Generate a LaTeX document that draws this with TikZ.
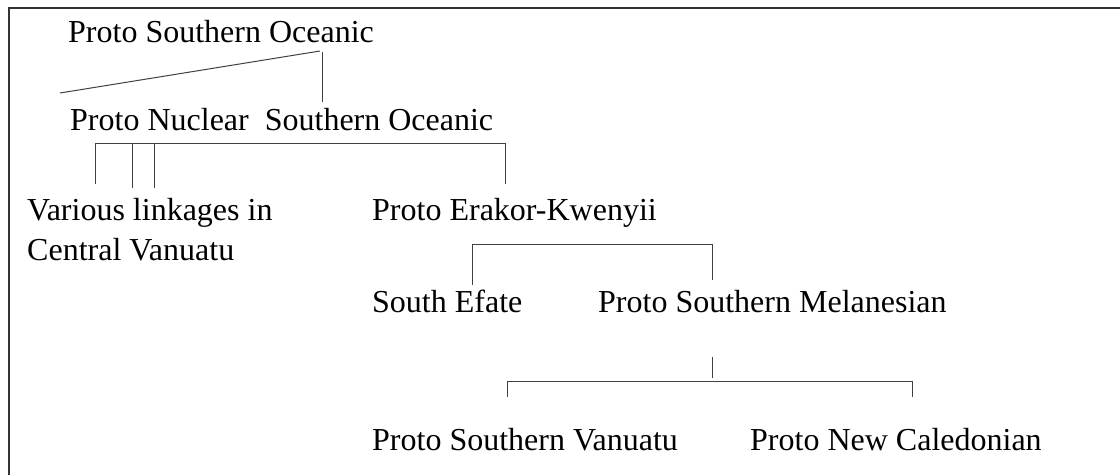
\documentclass[tikz,border=0pt]{standalone}
\usepackage{fontspec}
\setmainfont{Liberation Serif}
\tikzset{
  lbl/.style={anchor=base west, inner sep=0pt, font=\fontsize{32}{40}\selectfont},
  twoline/.style={lbl, align=left},
  branch/.style={draw=black!75, line width=1pt},
  frame/.style={draw=black!80, line width=2pt}
}
\begin{document}
\begin{tikzpicture}[x=1pt, y=-1pt]
      \useasboundingbox (0,0) rectangle (1120,475);
      \draw[frame] (9,475) -- (9,8) -- (1120,8);
      \draw
        (68,42) node[lbl] (psoc) {Proto Southern Oceanic}
        (70,130) node[lbl] (pnso) {Proto Nuclear\ \ Southern Oceanic}
        (27,260) node[twoline] (vlcv) {Various linkages in\\Central Vanuatu}
        (372,220) node[lbl] (pek) {Proto Erakor-Kwenyii}
        (372,312) node[lbl] (sef) {South Efate}
        (598,312) node[lbl] (psm) {Proto Southern Melanesian}
        (372,450) node[lbl] (psv) {Proto Southern Vanuatu}
        (750,450) node[lbl] (pnc) {Proto New Caledonian};
      \coordinate (0) at (60,93);
      \coordinate (1) at (320,51);
      \coordinate (2) at (322,52);
      \coordinate (3) at (322,102);
      \coordinate (4) at (95,184);
      \coordinate (5) at (95,143);
      \coordinate (6) at (505,143);
      \coordinate (7) at (505,184);
      \coordinate (8) at (132,143);
      \coordinate (9) at (132,188);
      \coordinate (10) at (154,143);
      \coordinate (11) at (154,188);
      \coordinate (12) at (472,285);
      \coordinate (13) at (472,244);
      \coordinate (14) at (712,244);
      \coordinate (15) at (712,280);
      \coordinate (16) at (712,357);
      \coordinate (17) at (712,378);
      \coordinate (18) at (507,397);
      \coordinate (19) at (507,381);
      \coordinate (20) at (912,381);
      \coordinate (21) at (912,397);
      \begin{scope}[branch]
        \draw (0) to (1);
        \draw (2) to (3);
        \draw (4) -- (5) -- (6) -- (7);
        \draw (8) to (9);
        \draw (10) to (11);
        \draw (12) -- (13) -- (14) -- (15);
        \draw (16) to (17);
        \draw (18) -- (19) -- (20) -- (21);
      \end{scope}
    \end{tikzpicture}
\end{document}
